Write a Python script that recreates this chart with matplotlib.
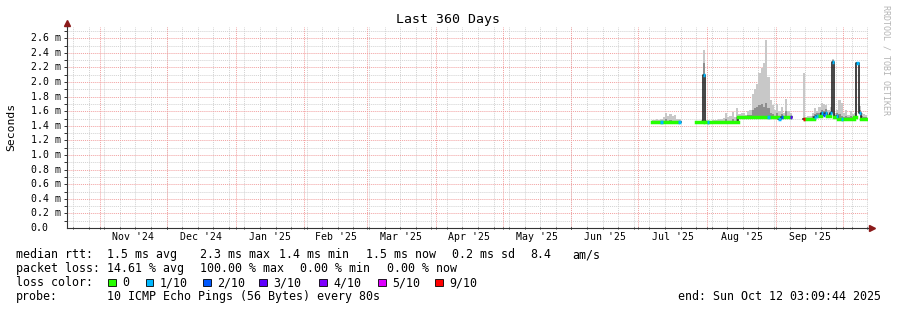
import numpy as np
import pandas as pd
import matplotlib
matplotlib.use("Agg")
import matplotlib.pyplot as plt
import matplotlib.transforms as mtrans
from matplotlib.patches import Rectangle
from datetime import datetime

plt.rcParams["font.family"] = "DejaVu Sans Mono"

nan = np.nan

# one value per day, 2025-07-07 .. 2025-10-11 (ms); nan = no data
days = pd.date_range("2025-07-07", "2025-10-11", freq="D")
median = [1.45, 1.45, 1.45, 1.45, 1.45, 1.45, 1.45, 1.45, 1.45, 1.45, 1.45, 1.45, 1.45,
          nan, nan, nan, nan, nan, nan, nan,
          1.45, 1.45, 1.45, 2.10, 1.45, 1.45, 1.45, 1.45, 1.45, 1.45, 1.45, 1.45, 1.45,
          1.45, 1.45, 1.45, 1.45, 1.45, 1.45,
          1.52, 1.52, 1.52, 1.52, 1.52, 1.52, 1.52, 1.52, 1.52, 1.52, 1.52, 1.52, 1.52,
          1.52, 1.52, 1.52, 1.52, 1.52, 1.50, 1.52, 1.52, 1.52, 1.52, 1.52,
          nan, nan, nan, nan, nan,
          1.50, 1.50, 1.50, 1.50, 1.50, 1.52, 1.54, 1.53, 1.57, 1.55, 1.58, 1.53, 1.57,
          2.28, 1.52, 1.54, 1.50, 1.50, 1.50, 1.50, 1.50, 1.50, 1.50, 1.52, 2.26, 1.58,
          1.50, 1.50, 1.50]
smoke_hi = [1.48, 1.48, 1.49, 1.48, 1.50, 1.52, 1.58, 1.54, 1.56, 1.53, 1.55, 1.50, 1.49,
            nan, nan, nan, nan, nan, nan, nan,
            1.47, 1.47, 1.48, 2.44, 1.48, 1.47, 1.47, 1.48, 1.48, 1.48, 1.49, 1.50, 1.51,
            1.57, 1.52, 1.53, 1.59, 1.52, 1.64,
            1.56, 1.58, 1.57, 1.55, 1.60, 1.62, 1.84, 1.90, 1.98, 2.12, 2.19, 2.26, 2.58,
            2.07, 1.75, 1.68, 1.62, 1.70, 1.60, 1.66, 1.58, 1.77, 1.60, 1.58,
            nan, nan, nan, nan, nan,
            2.12, 1.52, 1.54, 1.53, 1.58, 1.65, 1.60, 1.66, 1.72, 1.70, 1.68, 1.62, 1.66,
            2.32, 1.58, 1.62, 1.75, 1.72, 1.58, 1.62, 1.55, 1.60, 1.56, 1.57, 2.28, 1.67,
            1.58, 1.56, 1.55]
smoke_dark = [1.46, 1.46, 1.45, 1.46, 1.46, 1.47, 1.50, 1.47, 1.48, 1.46, 1.47, 1.46, 1.46,
              nan, nan, nan, nan, nan, nan, nan,
              1.45, 1.46, 1.46, 2.26, 1.46, 1.45, 1.46, 1.46, 1.46, 1.46, 1.46, 1.46, 1.46,
              1.50, 1.46, 1.47, 1.50, 1.46, 1.52,
              1.53, 1.54, 1.53, 1.53, 1.55, 1.55, 1.62, 1.64, 1.66, 1.68, 1.70, 1.66, 1.72,
              1.64, 1.58, 1.56, 1.54, 1.58, 1.53, 1.56, 1.53, 1.60, 1.54, 1.54,
              nan, nan, nan, nan, nan,
              1.51, 1.50, 1.51, 1.51, 1.53, 1.56, 1.57, 1.58, 1.62, 1.60, 1.63, 1.56, 1.60,
              2.30, 1.54, 1.57, 1.56, 1.53, 1.52, 1.54, 1.52, 1.53, 1.52, 1.54, 2.27, 1.62,
              1.54, 1.52, 1.52]
loss = [0, 0, 0, 0, 1, 0, 0, 0, 0, 0, 0, 0, 1,
        -1, -1, -1, -1, -1, -1, -1,
        0, 0, 0, 1, 0, 1, 0, 0, 0, 0, 0, 0, 0, 0, 0, 0, 0, 0, 0,
        0, 0, 0, 0, 0, 0, 0, 0, 0, 0, 0, 0, 0, 1, 0, 0, 0, 0, 1, 2, 0, 0, 0, 3,
        -1, -1, -1, -1, -1,
        9, 0, 0, 0, 0, 1, 1, 0, 1, 2, 1, 0, 1, 1, 0, 1, 0, 1, 0, 0, 0, 0, 0, 0, 1, 1,
        0, 0, 0]

loss_colors = {0: "#26ff00", 1: "#00b8ff", 2: "#0059ff", 3: "#5e00ff",
               4: "#7e00ff", 5: "#dd00ff", 9: "#ff0000"}
legend_labels = ["0", "1/10", "2/10", "3/10", "4/10", "5/10", "9/10"]
legend_keys = [0, 1, 2, 3, 4, 5, 9]

month_labels = ["Nov '24", "Dec '24", "Jan '25", "Feb '25", "Mar '25", "Apr '25",
                "May '25", "Jun '25", "Jul '25", "Aug '25", "Sep '25"]
y_ticks = [0.0, 0.2, 0.4, 0.6, 0.8, 1.0, 1.2, 1.4, 1.6, 1.8, 2.0, 2.2, 2.4, 2.6]

start = datetime(2024, 10, 17, 3, 9, 44)
end = datetime(2025, 10, 12, 3, 9, 44)

W, H = 897, 310
fig = plt.figure(figsize=(W / 100, H / 100), dpi=100)
fig.patch.set_facecolor("white")
ax = fig.add_axes([66.7 / W, (H - 228) / H, 801 / W, 201 / H])
ax.set_xlim(start, end)
ax.set_ylim(0, 2.755)

# grid
months = pd.date_range("2024-11-01", "2025-11-01", freq="MS")
weeks = pd.date_range("2024-10-20", "2025-10-12", freq="W-SUN")
dot = (0, (1, 1))
for w in weeks:
    ax.axvline(w, color="#d2d2d2", lw=0.7, ls=dot, zorder=0)
for yv in np.arange(0.1, 2.75, 0.2):
    ax.axhline(yv, color="#d2d2d2", lw=0.7, ls=dot, zorder=0)
for m in months[:-1]:
    ax.axvline(m, color="#f2a0a0", lw=0.7, ls=dot, zorder=1)
for yv in y_ticks[1:]:
    ax.axhline(yv, color="#f2a0a0", lw=0.7, ls=dot, zorder=1)

# smoke + median
x = np.array(days.to_pydatetime())
one = pd.Timedelta(days=1)
med = np.array(median)
hi = np.array(smoke_hi)
dark = np.array(smoke_dark)
lo = med - 0.02
ax.bar(x, hi - lo, bottom=lo, width=1, align="edge", color="#c8c8c8", lw=0, zorder=2)
ax.bar(x, dark - lo, bottom=lo, width=1, align="edge", color="#8e8e8e", lw=0, zorder=2)

xe = np.append(x, x[-1] + one)
ax.plot(xe, np.append(med, med[-1]), drawstyle="steps-post", color="#111111",
        lw=1.1, zorder=3)

# colour the median by loss; no-loss runs get projecting caps so no seams show
i = 0
n = len(med)
while i < n:
    if np.isnan(med[i]):
        i += 1
        continue
    j = i
    while j + 1 < n and loss[j + 1] == loss[i] and med[j + 1] == med[i]:
        j += 1
    ok0 = loss[i] == 0
    ax.hlines(med[i], x[i], x[j] + one, colors=loss_colors[loss[i]], lw=2.5,
              zorder=4 if ok0 else 5, capstyle="projecting" if ok0 else "butt")
    i = j + 1

# axes look
for s in ["top", "right"]:
    ax.spines[s].set_visible(False)
for s in ["left", "bottom"]:
    ax.spines[s].set_color("#333333")
    ax.spines[s].set_linewidth(0.8)
ax.plot([1.0, 1.0 + 4 / 801], [0, 0], transform=ax.transAxes, clip_on=False,
        color="#333333", lw=0.8)
ax.plot([1.0 + 4 / 801], [0], marker=">", ms=4, color="#8b1a1a",
        transform=ax.transAxes, clip_on=False)
ax.plot([0, 0], [1.0, 1.0 + 4 / 201], transform=ax.transAxes, clip_on=False,
        color="#333333", lw=0.8)
ax.plot([0], [1.0 + 4 / 201], marker="^", ms=4, color="#8b1a1a",
        transform=ax.transAxes, clip_on=False)

mids = [months[k] + (months[k + 1] - months[k]) / 2 for k in range(len(month_labels))]
ax.set_xticks(mids)
ax.set_xticklabels(month_labels, fontsize=7.1)
ax.tick_params(axis="x", which="major", length=0, pad=3)
ax.set_xticks(list(weeks) + list(months[:-1]), minor=True)
ax.tick_params(axis="x", which="minor", length=1.5, width=0.7, color="#333333",
               direction="inout")
ax.set_yticks([])
ax.set_yticks(np.arange(0.1, 2.75, 0.1), minor=True)
ax.tick_params(axis="y", which="minor", length=2, width=0.7, color="#333333")

ytr = mtrans.blended_transform_factory(fig.transFigure, ax.transData)
for yv in y_ticks:
    lab = "0.0" if yv == 0 else f"{yv:.1f} m"
    fig.text(30.5 / W, yv, lab, transform=ytr, fontsize=7.1, ha="left", va="center")

fig.text(448 / W, 1 - 19 / H, "Last 360 Days", fontsize=9.5, ha="center", va="center")
fig.text(11 / W, 1 - 127 / H, "Seconds", fontsize=8.2, rotation=90, ha="center", va="center")
fig.text(886 / W, 1 - 60 / H, "RRDTOOL / TOBI OETIKER", fontsize=6, rotation=-90,
         ha="center", va="center", color="#b4b4b4")

# legend
fs = 8.4
def line(px, base, s):
    fig.text(px / W, 1 - base / H, s, fontsize=fs, ha="left", va="baseline")

row1 = [(16, "median rtt:"), (107.3, "1.5 ms avg"), (200, "2.3 ms max"),
        (279.3, "1.4 ms min"), (365.7, "1.5 ms now"), (451.7, "0.2 ms sd"),
        (530, "8.4"), (572.7, "am/s")]
row2 = [(16, "packet loss:"), (107.3, "14.61 % avg"), (200, "100.00 % max"),
        (300, "0.00 % min"), (386.7, "0.00 % now")]
for px, s in row1:
    line(px, 258.3, s)
for px, s in row2:
    line(px, 272.3, s)
line(16, 286.3, "loss color:")
box_x = [108.3, 145.7, 203.3, 259.3, 319.3, 378.3, 435]
for bx, k, lab in zip(box_x, legend_keys, legend_labels):
    fig.add_artist(Rectangle((bx / W, 1 - 286 / H), 7.5 / W, 7.5 / H,
                             facecolor=loss_colors[k], edgecolor="black", lw=0.6,
                             transform=fig.transFigure))
    line(bx + 14, 286.3, lab)
line(16, 300.3, "probe:")
line(107.3, 300.3, "10 ICMP Echo Pings (56 Bytes) every 80s")
fig.text(881 / W, 1 - 300.3 / H, "end: Sun Oct 12 03:09:44 2025", fontsize=fs,
         ha="right", va="baseline")

fig.savefig("out.png", dpi=100)
